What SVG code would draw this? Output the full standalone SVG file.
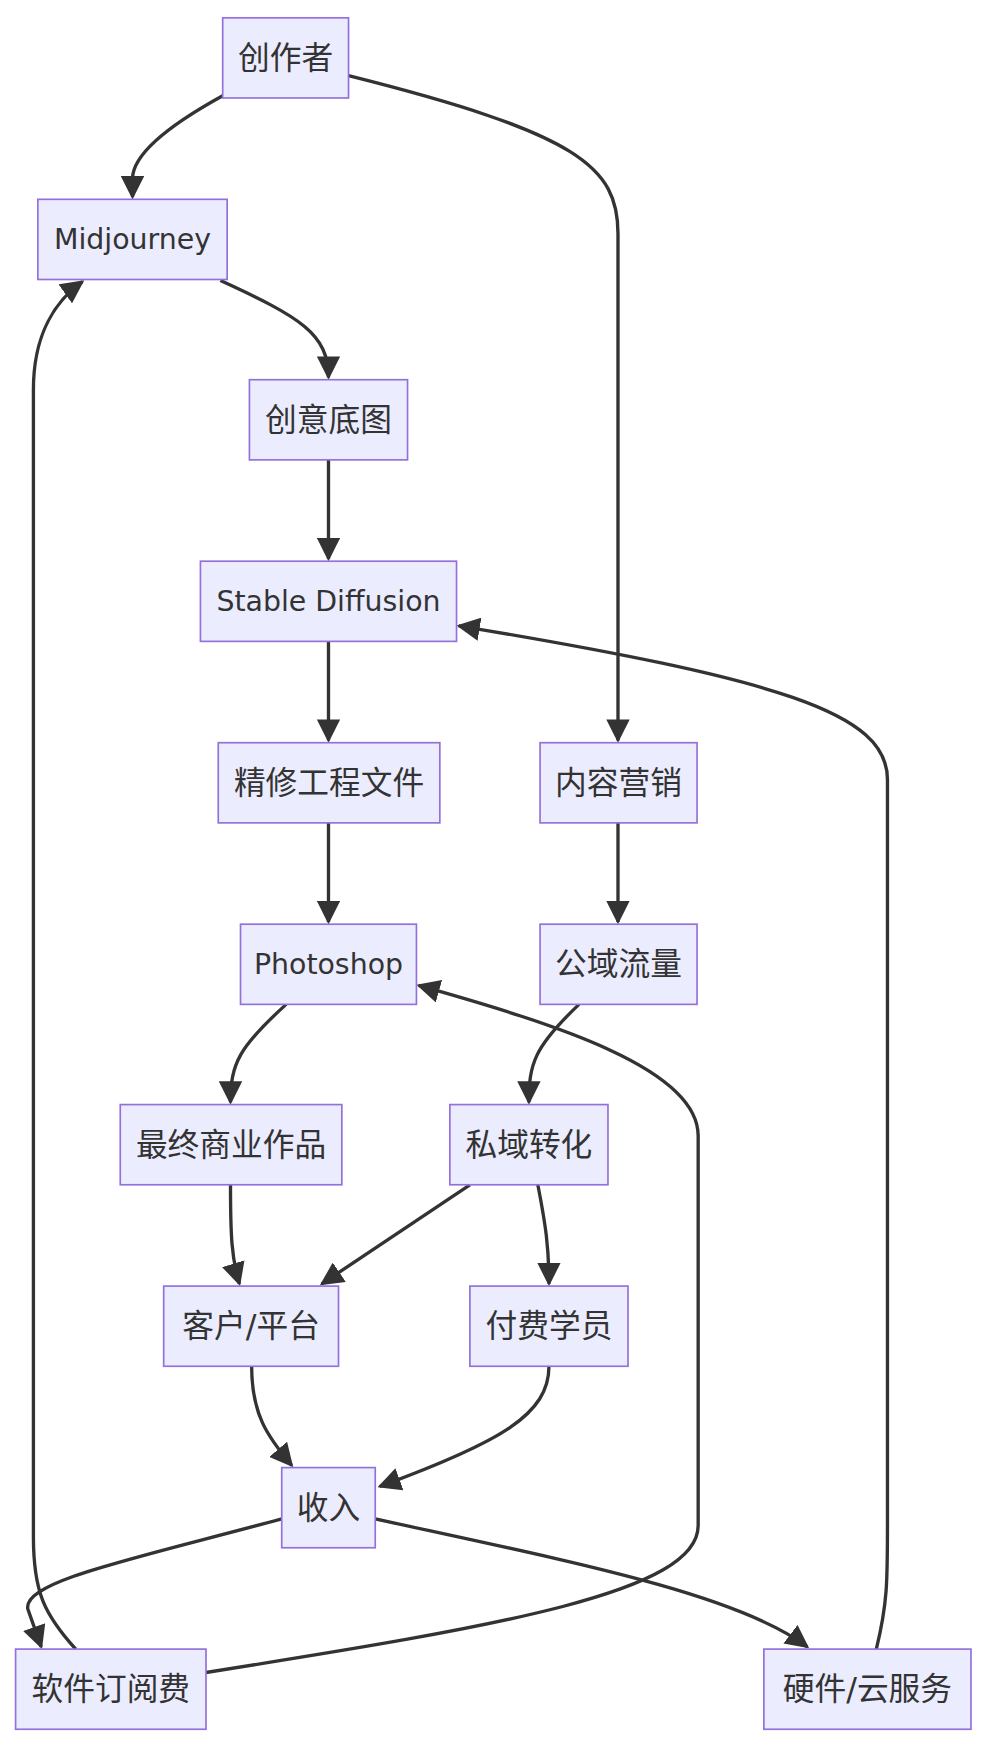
<svg xmlns="http://www.w3.org/2000/svg" width="988" height="1746" viewBox="0 0 988 1746">
<style>
.n rect{fill:#ECECFF;stroke:#9370DB;stroke-width:1.5}
.n text{font-family:"DejaVu Sans","Noto Sans CJK SC",sans-serif;font-size:28.5px;fill:#333;text-anchor:middle;dominant-baseline:central}
.n text.l{font-size:25.5px}
.e path{fill:none;stroke:#333;stroke-width:3;marker-end:url(#a)}
</style>
<defs><marker id="a" viewBox="0 0 10 10" refX="9" refY="5" markerWidth="7" markerHeight="7" markerUnits="strokeWidth" orient="auto"><path d="M0,0L10,5L0,10z" fill="#333"/></marker></defs>
<rect width="988" height="1746" fill="#fff"/>
<g transform="scale(1.1135)">
<g class="e">
<path d="M200,86 Q120,130 119,160 L119,177"/>
<path d="M313,68 C520,120 555,150 555,210 L555,665"/>
<path d="M198,252 C270,285 295,300 295,339"/>
<path d="M295,413 L295,502"/>
<path d="M295,576 L295,665"/>
<path d="M295,739 L295,828"/>
<path d="M555,739 L555,828"/>
<path d="M257,902 C215,940 207,955 207,990"/>
<path d="M520,902 C480,940 475,955 475,990"/>
<path d="M207,1064 C207,1110 208,1130 215,1153"/>
<path d="M422,1064 L289,1153"/>
<path d="M483,1064 C490,1100 493,1120 493,1153"/>
<path d="M226,1227 C226,1270 240,1290 262,1316"/>
<path d="M493,1227 C493,1270 450,1295 341,1335"/>
<path d="M253,1364 C120,1400 20,1420 25,1445 L37,1479"/>
<path d="M337,1364 C500,1400 660,1430 725,1479"/>
<path d="M68,1481 C40,1450 30,1430 30,1380 L30,350 C30,300 50,270 74,253"/>
<path d="M185,1502 C450,1460 627,1430 627,1370 L627,1020 C627,960 500,920 376,885"/>
<path d="M787,1481 C797,1440 797,1420 797,1370 L797,700 C797,640 700,610 412,562"/>
</g>
<g class="n" id="n1"><rect x="200" y="16" width="113" height="72"/><text x="256.5" y="52">创作者</text></g>
<g class="n" id="n2"><rect x="34" y="179" width="170" height="72"/><text class="l" x="119" y="215">Midjourney</text></g>
<g class="n" id="n3"><rect x="224" y="341" width="142" height="72"/><text x="295" y="377">创意底图</text></g>
<g class="n" id="n4"><rect x="180" y="504" width="230" height="72"/><text class="l" x="295" y="540">Stable Diffusion</text></g>
<g class="n" id="n5"><rect x="196" y="667" width="199" height="72"/><text x="295.5" y="703">精修工程文件</text></g>
<g class="n" id="n6"><rect x="485" y="667" width="141" height="72"/><text x="555.5" y="703">内容营销</text></g>
<g class="n" id="n7"><rect x="216" y="830" width="158" height="72"/><text class="l" x="295" y="866">Photoshop</text></g>
<g class="n" id="n8"><rect x="485" y="830" width="141" height="72"/><text x="555.5" y="866">公域流量</text></g>
<g class="n" id="n9"><rect x="108" y="992" width="199" height="72"/><text x="207.5" y="1028">最终商业作品</text></g>
<g class="n" id="n10"><rect x="404" y="992" width="142" height="72"/><text x="475" y="1028">私域转化</text></g>
<g class="n" id="n11"><rect x="147" y="1155" width="157" height="72"/><text x="225.5" y="1191">客户/平台</text></g>
<g class="n" id="n12"><rect x="422" y="1155" width="142" height="72"/><text x="493" y="1191">付费学员</text></g>
<g class="n" id="n13"><rect x="253" y="1318" width="84" height="72"/><text x="295" y="1354">收入</text></g>
<g class="n" id="n14"><rect x="14" y="1481" width="171" height="72"/><text x="99.5" y="1517">软件订阅费</text></g>
<g class="n" id="n15"><rect x="686" y="1481" width="186" height="72"/><text x="779" y="1517">硬件/云服务</text></g>
</g>
</svg>
